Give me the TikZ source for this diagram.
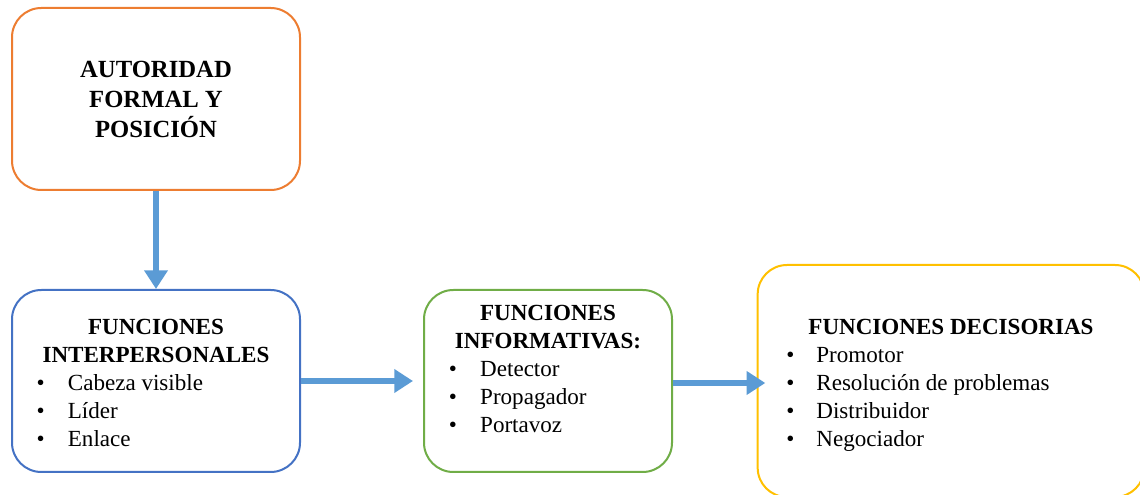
\documentclass[tikz,border=0pt]{standalone}
\usepackage{fontspec}
\setmainfont{Liberation Serif}
\usetikzlibrary{arrows.meta}

\definecolor{naranja}{HTML}{ED7D31}
\definecolor{azul}{HTML}{4472C4}
\definecolor{verde}{HTML}{70AD47}
\definecolor{amarillo}{HTML}{FFC000}
\definecolor{azulflecha}{HTML}{5B9BD5}

\tikzset{
  caja/.style={draw, line width=1.5pt, rounded corners=22pt, fill=white,
    inner sep=0pt, font=\fontsize{17.3}{21}\selectfont},
  flecha/.style={line width=4.5pt, azulflecha,
    -{Triangle[length=14pt,width=17pt]}}
}

\begin{document}
\begin{tikzpicture}[x=0.75pt,y=-0.75pt]
      \useasboundingbox (0,0) rectangle (1140,495);
      \clip (0,0) rectangle (1140,495);

      \node [caja, draw=naranja, minimum width=216pt, minimum height=136.5pt,
        align=center, font=\bfseries\fontsize{18.5}{22.5}\selectfont]
        (autoridad) at (156,99) {AUTORIDAD\\FORMAL Y\\POSICIÓN};

      \node [caja, draw=azul, minimum width=216pt, minimum height=136.5pt]
        (interpersonales) at (156,381) {%
        \begin{tabular}{@{}p{19pt}@{}l@{}}
          \multicolumn{2}{@{}c@{}}{\rule{0pt}{20pt}\bfseries FUNCIONES}\\
          \multicolumn{2}{@{}c@{}}{\bfseries INTERPERSONALES}\\
          \hspace{-4.5pt}\textbullet & Cabeza visible\\
          \hspace{-4.5pt}\textbullet & Líder\\
          \hspace{-4.5pt}\textbullet & Enlace
        \end{tabular}};

      \node [caja, draw=verde, minimum width=186pt, minimum height=136.5pt]
        (informativas) at (548,381) {%
        \begin{tabular}{@{}p{19pt}@{}l@{}}
          \multicolumn{2}{@{}c@{}}{\rule{0pt}{20pt}\bfseries FUNCIONES}\\
          \multicolumn{2}{@{}c@{}}{\bfseries INFORMATIVAS:}\\
          \hspace{-4.5pt}\textbullet & Detector\\
          \hspace{-4.5pt}\textbullet & Propagador\\
          \hspace{-4.5pt}\textbullet & Portavoz\\
          &
        \end{tabular}};

      \node [caja, draw=amarillo, minimum width=290pt, minimum height=174pt]
        (decisorias) at (951,381) {%
        \begin{tabular}{@{}p{21pt}@{}l@{}}
          \multicolumn{2}{@{\hspace{15pt}}c@{\hspace{15pt}}}{\rule{0pt}{20pt}\bfseries FUNCIONES DECISORIAS}\\
          \hspace{-1.5pt}\textbullet & Promotor\\
          \hspace{-1.5pt}\textbullet & Resolución de problemas\\
          \hspace{-1.5pt}\textbullet & Distribuidor\\
          \hspace{-1.5pt}\textbullet & Negociador
        \end{tabular}};

      \draw [flecha] (autoridad) -- (interpersonales);
      \draw [flecha, shorten >=7.5pt] (interpersonales) -- (informativas);
      \draw [flecha, shorten >=-6.5pt] ([yshift=-1.5pt]informativas.east) -- ([yshift=-1.5pt]decisorias.west);
\end{tikzpicture}
\end{document}
